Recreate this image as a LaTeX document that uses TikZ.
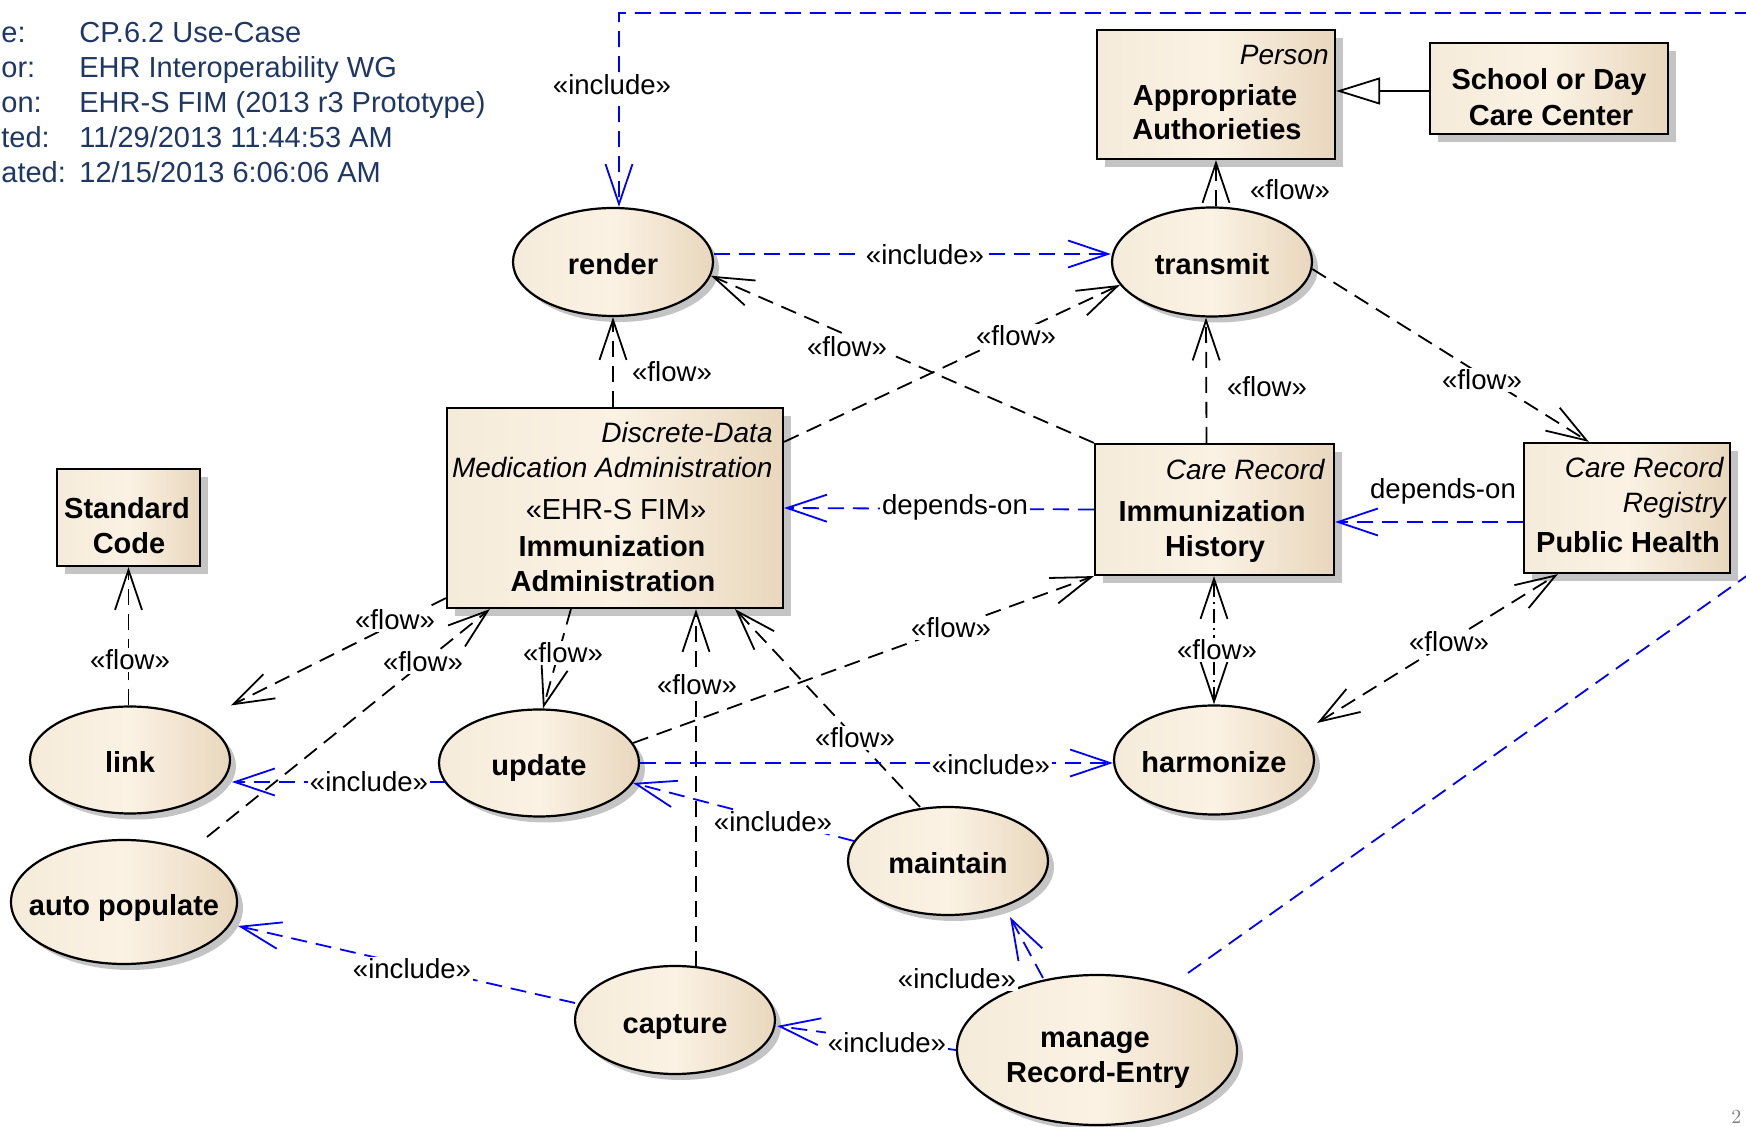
\documentclass[tikz,border=0pt]{standalone}
\usepackage{fontspec}
\usetikzlibrary{arrows.meta,shapes.geometric,shadows,calc}
\newfontfamily\af{Liberation Sans}
\definecolor{hdr}{RGB}{30,55,100}
\definecolor{cL}{RGB}{245,235,218}
\definecolor{cM}{RGB}{251,242,228}
\definecolor{cR}{RGB}{232,215,189}
\definecolor{shd}{RGB}{196,196,196}
\tikzset{
  boxbase/.style={draw=black, line width=1.1pt, left color=cL, right color=cR, middle color=cM,
     drop shadow={shadow xshift=4pt, shadow yshift=-4pt, fill=shd, opacity=1}},
  ellbase/.style={draw=black, line width=1.1pt, left color=cL, right color=cR, middle color=cM,
     drop shadow={shadow xshift=3pt, shadow yshift=-3pt, fill=shd, opacity=1}},
  uc/.style={ellbase, ellipse, inner sep=0pt, text height=13pt, text depth=0pt,
     font=\af\bfseries\fontsize{14.5}{17}\selectfont},
  bx/.style={boxbase, rectangle, inner sep=0pt},
  btxt/.style={font=\af\bfseries\fontsize{14.5}{17}\selectfont, inner sep=0pt},
  itxt/.style={font=\af\itshape\fontsize{14}{17}\selectfont, inner sep=0pt},
  rtxt/.style={font=\af\fontsize{14.5}{17}\selectfont, inner sep=0pt},
  hdrs/.style={font=\af\fontsize{14.5}{17}\selectfont, text=hdr, inner sep=0pt},
  lbl/.style={font=\af\fontsize{13.8}{16}\selectfont, fill=white, inner sep=1pt},
  conn/.style={line width=0.9pt, dash pattern=on 8pt off 4.5pt,
     -{Straight Barb[length=20pt,width=13.5pt]}},
  flow/.style={conn, draw=black},
  incl/.style={conn, draw=blue},
  both/.style={{Straight Barb[length=20pt,width=13.5pt]}-{Straight Barb[length=20pt,width=13.5pt]}},
}
\begin{document}
\begin{tikzpicture}[x=0.5pt,y=-0.5pt]
\useasboundingbox (0,0) rectangle (1746,1127);
\clip (0,0) rectangle (1746,1127);

% header
\node[hdrs, anchor=base west] (h1v) at (79,43) {CP.6.2 Use-Case};
\node[hdrs, anchor=base west] (h2v) at (79,78) {EHR Interoperability WG};
\node[hdrs, anchor=base west] (h3v) at (79,113) {EHR-S FIM (2013 r3 Prototype)};
\node[hdrs, anchor=base west] (h4v) at (79,148) {11/29/2013 11:44:53 AM};
\node[hdrs, anchor=base west] (h5v) at (79,183) {12/15/2013 6:06:06 AM};
\node[hdrs, anchor=base west] (h1k) at (1,43) {e:};
\node[hdrs, anchor=base west] (h2k) at (1,78) {or:};
\node[hdrs, anchor=base west] (h3k) at (1,113) {on:};
\node[hdrs, anchor=base west] (h4k) at (1,148) {ted:};
\node[hdrs, anchor=base west] (h5k) at (1,183) {ated:};

% boxes
\node[bx, minimum width=119pt, minimum height=64.5pt] (aa) at (1216,94.5) {};
\node[bx, minimum width=119pt, minimum height=45.5pt] (school) at (1549,88.5) {};
\node[bx, minimum width=168pt, minimum height=100pt] (disc) at (615,508) {};
\node[bx, minimum width=119.5pt, minimum height=65.5pt] (imm) at (1214.5,509.5) {};
\node[bx, minimum width=103pt, minimum height=65pt] (ph) at (1627,508) {};
\node[bx, minimum width=71.5pt, minimum height=48.5pt] (std) at (128.5,517.5) {};

\node[itxt, anchor=base east] (aa1) at (1329,65) {Person};
\node[btxt, anchor=base] (aa2) at (1215,106) {Appropriate};
\node[btxt, anchor=base] (aa3) at (1217,140) {Authorieties};
\node[btxt, anchor=base] (sc1) at (1549,90) {School or Day};
\node[btxt, anchor=base] (sc2) at (1551,126) {Care Center};
\node[itxt, anchor=base east] (d1) at (773,443) {Discrete-Data};
\node[itxt, anchor=base east] (d2) at (773,478) {Medication Administration};
\node[rtxt, anchor=base] (d3) at (616,520) {«EHR-S FIM»};
\node[btxt, anchor=base] (d4) at (612,557) {Immunization};
\node[btxt, anchor=base] (d5) at (613,592) {Administration};
\node[itxt, anchor=base east] (i1) at (1325,480) {Care Record};
\node[btxt, anchor=base] (i2) at (1212,522) {Immunization};
\node[btxt, anchor=base] (i3) at (1215,557) {History};
\node[itxt, anchor=base east] (p1) at (1724,478) {Care Record};
\node[itxt, anchor=base east] (p2) at (1726,513) {Registry};
\node[btxt, anchor=base] (p3) at (1628,553) {Public Health};
\node[btxt, anchor=base] (s1) at (127,519) {Standard};
\node[btxt, anchor=base] (s2) at (129,554) {Code};

% use cases
\node[uc, minimum width=100pt, minimum height=54pt] (rend) at (613,262) {\makebox[0pt]{render}};
\node[uc, minimum width=100pt, minimum height=54.5pt] (trans) at (1212,262) {\makebox[0pt]{transmit}};
\node[uc, minimum width=100pt, minimum height=53.5pt] (link) at (130,760) {\makebox[0pt]{link}};
\node[uc, minimum width=100pt, minimum height=53.5pt] (upd) at (539,763) {\makebox[0pt]{update}};
\node[uc, minimum width=100pt, minimum height=54.5pt] (harm) at (1214,760) {\makebox[0pt]{harmonize}};
\node[uc, minimum width=113pt, minimum height=62pt] (auto) at (124,902) {\makebox[0pt]{auto populate}};
\node[uc, minimum width=100pt, minimum height=54pt] (maint) at (948,861) {\makebox[0pt]{maintain}};
\node[uc, minimum width=100pt, minimum height=54pt] (capt) at (675,1020) {\makebox[0pt]{capture}};
\node[uc, minimum width=140pt, minimum height=75pt] (manage) at (1097,1050) {};
\node[btxt, anchor=base] (m1) at (1095,1047) {manage};
\node[btxt, anchor=base] (m2) at (1098,1082) {Record-Entry};

% connectors
\draw[incl] ($(manage.center)+(91,-77)$) -- (1800,538) -- (1800,13) -- (619,13) -- ($(rend.north)+(6,0)$);
\draw[incl] ($(rend.east)+(0,-8)$) -- ($(trans.west)+(0,-8)$);
\draw[flow] ($(disc.north)+(-2,0)$) -- (rend.south);
\draw[flow] (imm.north west) -- (rend.-8);
\draw[flow] ($(disc.north east)+(0,35)$) -- (trans.194);
\draw[flow] ($(imm.north)+(-8,0)$) -- ($(trans.south)+(-6,0)$);
\draw[flow] ($(trans.north)+(4,0)$) -- (aa.south);
\draw[flow] (trans.-4) -- ($(ph.north west)+(66,0)$);
\draw[incl] (imm.west) -- (disc.east);
\draw[incl] ($(ph.west)+(0,14)$) -- ($(imm.east)+(0,12.5)$);
\draw[flow, both, dash pattern=on 7pt off 2.5pt on 1pt off 2.5pt] (harm.north) -- (harm.north |- imm.south);
\draw[flow, both] ($(harm.east)+(2,-37)$) -- ($(ph.south west)+(35,0)$);
\draw[flow] (std.south |- link.north) -- (std.south);
\draw[flow] ($(disc.south west)+(0,-11)$) -- (link.north -| link.east);
\draw[flow] ($(auto.center)+(83,-65)$) -- ($(disc.south west)+(44,0)$);
\draw[incl] ($(upd.center)+(-94,19)$) -- ($(link.center)+(102,22)$);
\draw[flow] ($(disc.south west)+(125,0)$) -- ($(upd.north)+(4,0)$);
\draw[flow] ($(capt.center)+(21,-53)$) -- ($(disc.south)+(81,0)$);
\draw[flow] ($(maint.center)+(-28,-54)$) -- ($(disc.south)+(120,0)$);
\draw[flow] (upd.12) -- (imm.south west);
\draw[incl] (upd.east) -- (upd.east -| harm.west);
\draw[incl] (maint.168) -- (upd.-12);
\draw[incl] ($(manage.center)+(-54,-72)$) -- ($(maint.center)+(62,56)$);
\draw[incl] (manage.west) -- ($(capt.east)+(1,6)$);
\draw[incl] ($(capt.center)+(-100,-17)$) -- ($(auto.center)+(114,24)$);
\draw[line width=0.9pt, -{Triangle[open,length=22pt,width=13.5pt]}] ($(school.west)+(0,2.5)$) -- ($(aa.east)+(0,-3.5)$);

% labels
\node[lbl] (l1) at (612,85) {«include»};
\node[lbl] (l2) at (925,255) {«include»};
\node[lbl] (l3) at (672,372) {«flow»};
\node[lbl] (l4) at (847,347) {«flow»};
\node[lbl] (l5) at (1016,336) {«flow»};
\node[lbl] (l6) at (1267,387) {«flow»};
\node[lbl] (l7) at (1290,190) {«flow»};
\node[lbl] (l8) at (1482,380) {«flow»};
\node[lbl] (l9) at (955,507) {depends-on};
\node[lbl] (l10) at (1443,491) {depends-on};
\node[lbl] (l11) at (1217,650) {«flow»};
\node[lbl] (l12) at (1449,642) {«flow»};
\node[lbl] (l13) at (130,660) {«flow»};
\node[lbl] (l14) at (395,620) {«flow»};
\node[lbl] (l15) at (423,662) {«flow»};
\node[lbl] (l16) at (369,782) {«include»};
\node[lbl] (l17) at (563,653) {«flow»};
\node[lbl] (l18) at (697,685) {«flow»};
\node[lbl] (l19) at (855,738) {«flow»};
\node[lbl] (l20) at (951,628) {«flow»};
\node[lbl] (l21) at (991,765) {«include»};
\node[lbl] (l22) at (773,822) {«include»};
\node[lbl] (l23) at (957,979) {«include»};
\node[lbl] (l24) at (887,1043) {«include»};
\node[lbl] (l25) at (412,969) {«include»};

% page number
\node[anchor=south west, text=gray, font=\fontsize{10}{12}\selectfont, inner sep=0pt] (pg) at (1731,1124) {2};
\end{tikzpicture}
\end{document}
